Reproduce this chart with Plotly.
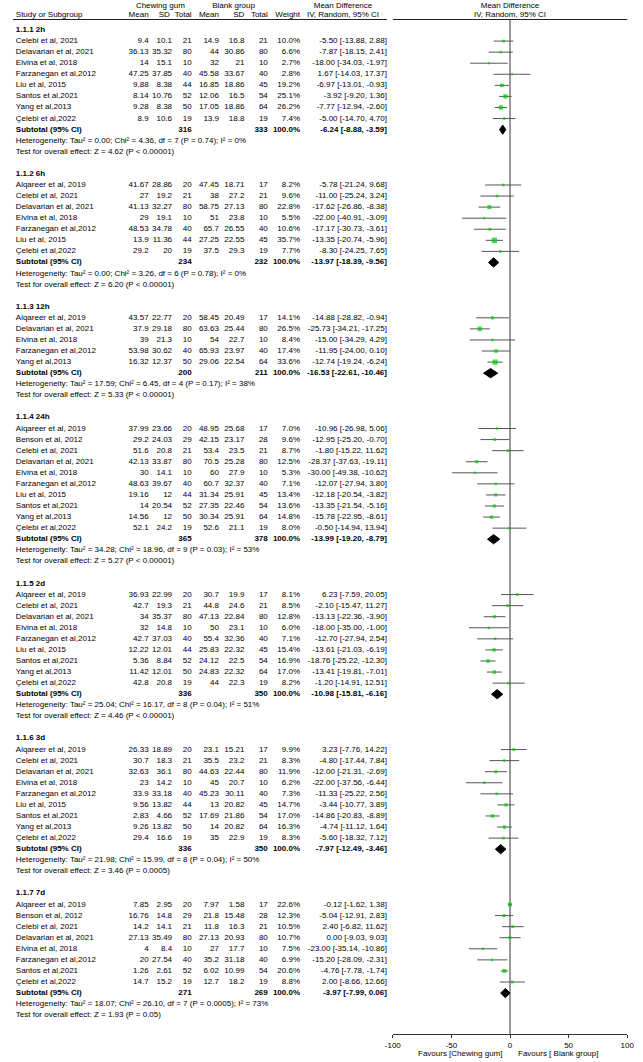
import plotly.graph_objects as go

# ------------------------------------------------------------------ data
sub_labels = ["1.1.1 2h", "1.1.2 6h", "1.1.3 12h", "1.1.4 24h", "1.1.5 2d", "1.1.6 3d", "1.1.7 7d"]

study_group = [0, 0, 0, 0, 0, 0, 0, 0,
               1, 1, 1, 1, 1, 1, 1,
               2, 2, 2, 2, 2,
               3, 3, 3, 3, 3, 3, 3, 3, 3, 3,
               4, 4, 4, 4, 4, 4, 4, 4, 4,
               5, 5, 5, 5, 5, 5, 5, 5, 5,
               6, 6, 6, 6, 6, 6, 6, 6]

study = [
    "Celebi et al, 2021", "Delavarian et al, 2021", "Elvina et al, 2018", "Farzanegan et al,2012",
    "Liu et al, 2015", "Santos et al,2021", "Yang et al,2013", "Çelebi et al,2022",
    "Alqareer et al, 2019", "Celebi et al, 2021", "Delavarian et al, 2021", "Elvina et al, 2018",
    "Farzanegan et al,2012", "Liu et al, 2015", "Çelebi et al,2022",
    "Alqareer et al, 2019", "Delavarian et al, 2021", "Elvina et al, 2018", "Farzanegan et al,2012",
    "Yang et al,2013",
    "Alqareer et al, 2019", "Benson et al, 2012", "Celebi et al, 2021", "Delavarian et al, 2021",
    "Elvina et al, 2018", "Farzanegan et al,2012", "Liu et al, 2015", "Santos et al,2021",
    "Yang et al,2013", "Çelebi et al,2022",
    "Alqareer et al, 2019", "Celebi et al, 2021", "Delavarian et al, 2021", "Elvina et al, 2018",
    "Farzanegan et al,2012", "Liu et al, 2015", "Santos et al,2021", "Yang et al,2013",
    "Çelebi et al,2022",
    "Alqareer et al, 2019", "Celebi et al, 2021", "Delavarian et al, 2021", "Elvina et al, 2018",
    "Farzanegan et al,2012", "Liu et al, 2015", "Santos et al,2021", "Yang et al,2013",
    "Çelebi et al,2022",
    "Alqareer et al, 2019", "Benson et al, 2012", "Celebi et al, 2021", "Delavarian et al, 2021",
    "Elvina et al, 2018", "Farzanegan et al,2012", "Santos et al,2021", "Çelebi et al,2022",
]

gum_mean = [9.4, 36.13, 14, 47.25, 9.88, 8.14, 9.28, 8.9,
            41.67, 27, 41.13, 29, 48.53, 13.9, 29.2,
            43.57, 37.9, 39, 53.98, 16.32,
            37.99, 29.2, 51.6, 42.13, 30, 48.63, 19.16, 14, 14.56, 52.1,
            36.93, 42.7, 34, 32, 42.7, 12.22, 5.36, 11.42, 42.8,
            26.33, 30.7, 32.63, 23, 33.9, 9.56, 2.83, 9.26, 29.4,
            7.85, 16.76, 14.2, 27.13, 4, 20, 1.26, 14.7]
gum_sd = [10.1, 35.32, 15.1, 37.85, 8.38, 10.76, 8.38, 10.6,
          28.86, 19.2, 32.27, 19.1, 34.78, 11.36, 20,
          22.77, 29.18, 21.3, 30.62, 12.37,
          23.66, 24.03, 20.8, 33.87, 14.1, 39.67, 12, 20.54, 12, 24.2,
          22.99, 19.3, 35.37, 14.8, 37.03, 12.01, 8.84, 12.01, 20.8,
          18.89, 18.3, 36.1, 14.2, 33.18, 13.82, 4.66, 13.82, 16.6,
          2.95, 14.8, 14.1, 35.49, 8.4, 27.54, 2.61, 15.2]
gum_n = [21, 80, 10, 40, 44, 52, 50, 19,
         20, 21, 80, 10, 40, 44, 19,
         20, 80, 10, 40, 50,
         20, 29, 21, 80, 10, 40, 44, 52, 50, 19,
         20, 21, 80, 10, 40, 44, 52, 50, 19,
         20, 21, 80, 10, 40, 44, 52, 50, 19,
         20, 29, 21, 80, 10, 40, 52, 19]
blank_mean = [14.9, 44, 32, 45.58, 16.85, 12.06, 17.05, 13.9,
              47.45, 38, 58.75, 51, 65.7, 27.25, 37.5,
              58.45, 63.63, 54, 65.93, 29.06,
              48.95, 42.15, 53.4, 70.5, 60, 60.7, 31.34, 27.35, 30.34, 52.6,
              30.7, 44.8, 47.13, 50, 55.4, 25.83, 24.12, 24.83, 44,
              23.1, 35.5, 44.63, 45, 45.23, 13, 17.69, 14, 35,
              7.97, 21.8, 11.8, 27.13, 27, 35.2, 6.02, 12.7]
blank_sd = [16.8, 30.86, 21, 33.67, 18.86, 16.5, 18.86, 18.8,
            18.71, 27.2, 27.13, 23.8, 26.55, 22.55, 29.3,
            20.49, 25.44, 22.7, 23.97, 22.54,
            25.68, 23.17, 23.5, 25.28, 27.9, 32.37, 25.91, 22.46, 25.91, 21.1,
            19.9, 24.6, 22.84, 23.1, 32.36, 22.32, 22.5, 22.32, 22.3,
            15.21, 23.2, 22.44, 20.7, 30.11, 20.82, 21.86, 20.82, 22.9,
            1.58, 15.48, 16.3, 20.93, 17.7, 31.18, 10.99, 18.2]
blank_n = [21, 80, 10, 40, 45, 54, 64, 19,
           17, 21, 80, 10, 40, 45, 19,
           17, 80, 10, 40, 64,
           17, 28, 21, 80, 10, 40, 45, 54, 64, 19,
           17, 21, 80, 10, 40, 45, 54, 64, 19,
           17, 21, 80, 10, 40, 45, 54, 64, 19,
           17, 28, 21, 80, 10, 40, 54, 19]
weight = [10.0, 6.6, 2.7, 2.8, 19.2, 25.1, 26.2, 7.4,
          8.2, 9.6, 22.8, 5.5, 10.6, 35.7, 7.7,
          14.1, 26.5, 8.4, 17.4, 33.6,
          7.0, 9.6, 8.7, 12.5, 5.3, 7.1, 13.4, 13.6, 14.8, 8.0,
          8.1, 8.5, 12.8, 6.0, 7.1, 15.4, 16.9, 17.0, 8.2,
          9.9, 8.3, 11.9, 6.2, 7.3, 14.7, 17.0, 16.3, 8.3,
          22.6, 12.3, 10.5, 10.7, 7.5, 6.9, 20.6, 8.8]
md = [-5.50, -7.87, -18.00, 1.67, -6.97, -3.92, -7.77, -5.00,
      -5.78, -11.00, -17.62, -22.00, -17.17, -13.35, -8.30,
      -14.88, -25.73, -15.00, -11.95, -12.74,
      -10.96, -12.95, -1.80, -28.37, -30.00, -12.07, -12.18, -13.35, -15.78, -0.50,
      6.23, -2.10, -13.13, -18.00, -12.70, -13.61, -18.76, -13.41, -1.20,
      3.23, -4.80, -12.00, -22.00, -11.33, -3.44, -14.86, -4.74, -5.60,
      -0.12, -5.04, 2.40, 0.00, -23.00, -15.20, -4.76, 2.00]
ci_low = [-13.88, -18.15, -34.03, -14.03, -13.01, -9.20, -12.94, -14.70,
          -21.24, -25.24, -26.86, -40.91, -30.73, -20.74, -24.25,
          -28.82, -34.21, -34.29, -24.00, -19.24,
          -26.98, -25.20, -15.22, -37.63, -49.38, -27.94, -20.54, -21.54, -22.95, -14.94,
          -7.59, -15.47, -22.36, -35.00, -27.94, -21.03, -25.22, -19.81, -14.91,
          -7.76, -17.44, -21.31, -37.56, -25.22, -10.77, -20.83, -11.12, -18.32,
          -1.62, -12.91, -6.82, -9.03, -35.14, -28.09, -7.78, -8.66]
ci_high = [2.88, 2.41, -1.97, 17.37, -0.93, 1.36, -2.60, 4.70,
           9.68, 3.24, -8.38, -3.09, -3.61, -5.96, 7.65,
           -0.94, -17.25, 4.29, 0.10, -6.24,
           5.06, -0.70, 11.62, -19.11, -10.62, 3.80, -3.82, -5.16, -8.61, 13.94,
           20.05, 11.27, -3.90, -1.00, 2.54, -6.19, -12.30, -7.01, 12.51,
           14.22, 7.84, -2.69, -6.44, 2.56, 3.89, -8.89, 1.64, 7.12,
           1.38, 2.83, 11.62, 9.03, -10.86, -2.31, -1.74, 12.66]

sub_gum_n = [316, 234, 200, 365, 336, 336, 271]
sub_blank_n = [333, 232, 211, 378, 350, 350, 269]
sub_md = [-6.24, -13.97, -16.53, -13.99, -10.98, -7.97, -3.97]
sub_low = [-8.88, -18.39, -22.61, -19.20, -15.81, -12.49, -7.99]
sub_high = [-3.59, -9.56, -10.46, -8.79, -6.16, -3.46, 0.06]
sub_tau2 = ["0.00", "0.00", "17.59", "34.28", "25.04", "21.98", "18.07"]
sub_chi2 = ["4.36", "3.26", "6.45", "18.96", "16.17", "15.99", "26.10"]
sub_df = [7, 6, 4, 9, 8, 8, 7]
sub_p_het = ["0.74", "0.78", "0.17", "0.03", "0.04", "0.04", "0.0005"]
sub_i2 = [0, 0, 38, 53, 51, 50, 73]
sub_z = ["4.62", "6.20", "5.33", "5.27", "4.46", "3.46", "1.93"]
sub_p_z = ["P < 0.00001", "P < 0.00001", "P < 0.00001", "P < 0.00001", "P < 0.00001",
           "P = 0.0005", "P = 0.05"]

axis_ticks = [-100, -50, 0, 50, 100]
axis_tick_text = ["-100", "-50", "0", "50", "100"]

# ------------------------------------------------------------------ layout constants
FONT = "Arial, 'Liberation Sans', sans-serif"
FS = 8
W, H = 643, 1062
BOTTOM = 28
ROW_PX = 11.07
FIRST_PX = 30
PLOT_H = H - BOTTOM
Y_TOP = -FIRST_PX / ROW_PX
Y_BOT = Y_TOP + PLOT_H / ROW_PX


def row_of_px(px):
    return (px - FIRST_PX) / ROW_PX


COLX = {"m1": 144, "sd1": 168, "n1": 188, "m2": 216, "sd2": 242, "n2": 266, "w": 299, "ci": 388}
NAME_X = 8
CI_HEAD_X = 343
GUM_HEAD_X = 156
BLANK_HEAD_X = 231
FOREST_L, FOREST_R = 394, 634
FOREST_C = (FOREST_L + FOREST_R) / 2
GREEN = "#00c800"
LINE = "#555555"


def fmt_ci(m, lo, hi):
    return f"{m:.2f} [{lo:.2f}, {hi:.2f}]"


# ------------------------------------------------------------------ build rows
left_x, left_y, left_t = [], [], []
cells = {k: ([], [], []) for k in COLX}
st_row, sub_row = [], []

r = 0
for g, lab in enumerate(sub_labels):
    left_x.append(NAME_X); left_y.append(r); left_t.append(f"<b>{lab}</b>")
    r += 1
    for i, grp in enumerate(study_group):
        if grp != g:
            continue
        left_x.append(NAME_X); left_y.append(r); left_t.append(study[i])
        vals = {"m1": str(gum_mean[i]), "sd1": str(gum_sd[i]), "n1": str(gum_n[i]),
                "m2": str(blank_mean[i]), "sd2": str(blank_sd[i]), "n2": str(blank_n[i]),
                "w": f"{weight[i]:.1f}%", "ci": fmt_ci(md[i], ci_low[i], ci_high[i])}
        for k, v in vals.items():
            cells[k][0].append(COLX[k]); cells[k][1].append(r); cells[k][2].append(v)
        st_row.append(r)
        r += 1
    left_x.append(NAME_X); left_y.append(r); left_t.append("<b>Subtotal (95% CI)</b>")
    svals = {"n1": str(sub_gum_n[g]), "n2": str(sub_blank_n[g]), "w": "100.0%",
             "ci": fmt_ci(sub_md[g], sub_low[g], sub_high[g])}
    for k, v in svals.items():
        cells[k][0].append(COLX[k]); cells[k][1].append(r); cells[k][2].append(f"<b>{v}</b>")
    sub_row.append(r)
    r += 1
    left_x.append(NAME_X); left_y.append(r)
    left_t.append(f"Heterogeneity: Tau² = {sub_tau2[g]}; Chi² = {sub_chi2[g]}, df = {sub_df[g]} "
                  f"(P = {sub_p_het[g]}); I² = {sub_i2[g]}%")
    r += 1
    left_x.append(NAME_X); left_y.append(r)
    left_t.append(f"Test for overall effect: Z = {sub_z[g]} ({sub_p_z[g]})")
    r += 2

fig = go.Figure()


def text_trace(xs, ys, ts, pos):
    return go.Scatter(x=xs, y=ys, text=ts, mode="text", textposition=pos,
                      xaxis="x2", yaxis="y", cliponaxis=False, hoverinfo="skip",
                      showlegend=False, textfont=dict(family=FONT, size=FS, color="#000"))


# forest: CI lines
lx, ly = [], []
for i, rr in enumerate(st_row):
    lx += [max(ci_low[i], -100), min(ci_high[i], 100), None]
    ly += [rr, rr, None]
fig.add_trace(go.Scatter(x=lx, y=ly, mode="lines", line=dict(color=LINE, width=1),
                         hoverinfo="skip", showlegend=False, cliponaxis=False))
# squares
fig.add_trace(go.Scatter(x=md, y=st_row, mode="markers",
                         marker=dict(symbol="square", color=GREEN,
                                     size=[1.8 + 0.1 * w for w in weight], line=dict(width=0)),
                         hoverinfo="skip", showlegend=False, cliponaxis=False))
# diamonds
dx, dy = [], []
for g, rr in enumerate(sub_row):
    dx += [sub_low[g], sub_md[g], sub_high[g], sub_md[g], sub_low[g], None]
    dy += [rr, rr - 0.42, rr, rr + 0.42, rr, None]
fig.add_trace(go.Scatter(x=dx, y=dy, mode="lines", fill="toself", fillcolor="#000",
                         line=dict(color="#000", width=1), hoverinfo="skip", showlegend=False))

fig.add_trace(text_trace(left_x, left_y, left_t, "middle right"))
for k, (xs, ys, ts) in cells.items():
    fig.add_trace(text_trace(xs, ys, ts, "middle left"))

# header
h1 = row_of_px(6)
h2 = row_of_px(15)
fig.add_trace(text_trace([GUM_HEAD_X, BLANK_HEAD_X, CI_HEAD_X, FOREST_C], [h1] * 4,
                         ["Chewing gum", "Blank group", "Mean Difference", "Mean Difference"],
                         "middle center"))
fig.add_trace(text_trace([NAME_X], [h2], ["Study or Subgroup"], "middle right"))
fig.add_trace(text_trace([COLX[k] for k in ["m1", "sd1", "n1", "m2", "sd2", "n2", "w"]], [h2] * 7,
                         ["Mean", "SD ", "Total", "Mean", "SD", "Total", "Weight"], "middle left"))
fig.add_trace(text_trace([CI_HEAD_X, FOREST_C], [h2] * 2,
                         ["IV, Random, 95% CI", "IV, Random, 95% CI"], "middle center"))

line_row = row_of_px(19.5)
fig.update_layout(
    width=W, height=H, margin=dict(l=0, r=0, t=0, b=BOTTOM),
    paper_bgcolor="white", plot_bgcolor="rgba(0,0,0,0)", showlegend=False,
    xaxis=dict(domain=[FOREST_L / W, FOREST_R / W], range=[-100, 100], tickvals=axis_ticks,
               ticktext=axis_tick_text, showline=True, linecolor="#333", linewidth=1,
               ticks="outside", ticklen=3, tickcolor="#333", showgrid=False, zeroline=False,
               tickfont=dict(family=FONT, size=FS, color="#000"), anchor="y", fixedrange=True),
    xaxis2=dict(domain=[0, 1], range=[0, W], visible=False, anchor="y", fixedrange=True),
    yaxis=dict(domain=[0, 1], range=[Y_BOT, Y_TOP], visible=False, anchor="x", fixedrange=True),
    shapes=[
        dict(type="line", xref="x", yref="y", x0=0, x1=0, y0=line_row, y1=Y_BOT,
             line=dict(color="#9a9a9a", width=2), layer="below"),
        dict(type="line", xref="x2", yref="y", x0=5, x1=388, y0=line_row, y1=line_row,
             line=dict(color="#222", width=1)),
        dict(type="line", xref="x2", yref="y", x0=FOREST_L, x1=FOREST_R, y0=line_row, y1=line_row,
             line=dict(color="#222", width=1)),
    ],
    annotations=[
        dict(text="Favours [Chewing gum]", x=-5, xref="x", xanchor="right",
             y=-19 / PLOT_H, yref="paper", yanchor="middle", showarrow=False,
             font=dict(family=FONT, size=FS, color="#000")),
        dict(text="Favours [ Blank group]", x=5, xref="x", xanchor="left",
             y=-19 / PLOT_H, yref="paper", yanchor="middle", showarrow=False,
             font=dict(family=FONT, size=FS, color="#000")),
    ],
)

fig.write_html("out.html", config={"displayModeBar": False},
               post_script="document.body.style.margin='0px';")
